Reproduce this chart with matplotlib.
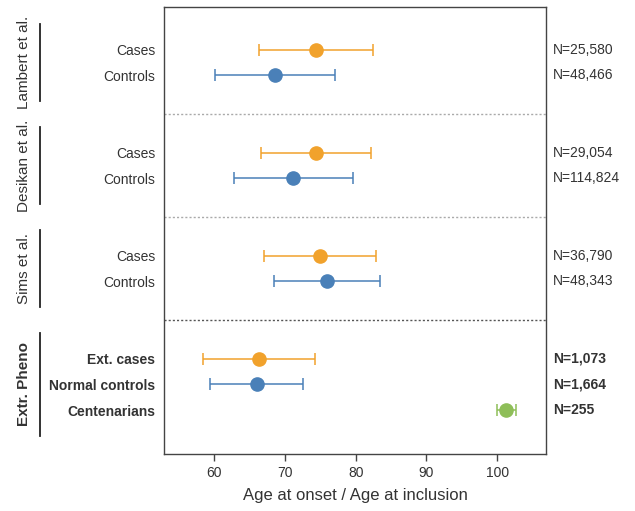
import matplotlib.pyplot as plt
import matplotlib.transforms as mtransforms

plt.rcParams["font.family"] = ["Liberation Sans", "DejaVu Sans"]

# ---- data ---------------------------------------------------------------
groups = ["Lambert et al.", "Desikan et al.", "Sims et al.", "Extr. Pheno"]
row_labels = [
    ["Cases", "Controls"],
    ["Cases", "Controls"],
    ["Cases", "Controls"],
    ["Ext. cases", "Normal controls", "Centenarians"],
]
means = [[74.4, 68.6], [74.4, 71.2], [75.0, 75.9], [66.3, 66.0, 101.3]]
sds = [[8.0, 8.5], [7.8, 8.45], [7.9, 7.5], [7.9, 6.55, 1.35]]
n_labels = [
    ["N=25,580", "N=48,466"],
    ["N=29,054", "N=114,824"],
    ["N=36,790", "N=48,343"],
    ["N=1,073", "N=1,664", "N=255"],
]
kinds = [["case", "ctrl"], ["case", "ctrl"], ["case", "ctrl"], ["case", "ctrl", "cent"]]

colors = {"case": "#F1A22C", "ctrl": "#4A80B8", "cent": "#8EBE58"}
text_col = "#333333"

fig = plt.figure(figsize=(6.35, 5.11), dpi=100)
ax = fig.add_axes([0.258, 0.112, 0.602, 0.874])
trans = mtransforms.blended_transform_factory(ax.transAxes, ax.transData)

ytick_pos, ytick_lab = [], []
for g, name in enumerate(groups):
    base = 4 * g
    bold = (g == 3)
    for r, lab in enumerate(row_labels[g]):
        y = base + r
        c = colors[kinds[g][r]]
        ax.errorbar(means[g][r], y, xerr=sds[g][r], fmt="o", color=c,
                    ms=9.5, elinewidth=1.1, capsize=4, capthick=1.1, zorder=3)
        ytick_pos.append(y)
        ytick_lab.append(lab)
        ax.text(1.018, y, n_labels[g][r], transform=trans,
                ha="left", va="center", fontsize=10, color=text_col,
                fontweight="bold" if bold else "normal")
    # separators between groups
    if g < len(groups) - 1:
        ls_col = "#555555" if g == 2 else "#aaaaaa"
        ax.axhline(base + 2.5, color=ls_col, lw=1, ls=(0, (1.5, 1.5)), zorder=1)

    # group label and bracket on the left
    top = base - 1
    bottom = base + len(row_labels[g])
    ax.plot([-0.325, -0.325], [top, bottom], transform=trans, color="#222222",
            lw=1.3, clip_on=False)
    ax.text(-0.365, (top + bottom) / 2, name, transform=trans, rotation=90,
            ha="center", va="center", fontsize=11, color=text_col,
            fontweight="bold" if bold else "normal")

ax.set_yticks(ytick_pos)
ax.set_yticklabels(ytick_lab, fontsize=10, color=text_col)
for lab in ax.get_yticklabels()[-3:]:
    lab.set_fontweight("bold")
ax.tick_params(axis="y", length=0, pad=6)
ax.tick_params(axis="x", labelsize=10, colors="#444444", labelcolor=text_col,
               length=5, width=1)

ax.set_xlim(52.9, 106.9)
ax.set_ylim(15.7, -1.65)
ax.set_xticks([60, 70, 80, 90, 100])
ax.set_xlabel("Age at onset / Age at inclusion", fontsize=12, color=text_col, labelpad=6)

for sp in ax.spines.values():
    sp.set_color("#444444")
    sp.set_linewidth(1)

fig.savefig("out.png", dpi=100)
